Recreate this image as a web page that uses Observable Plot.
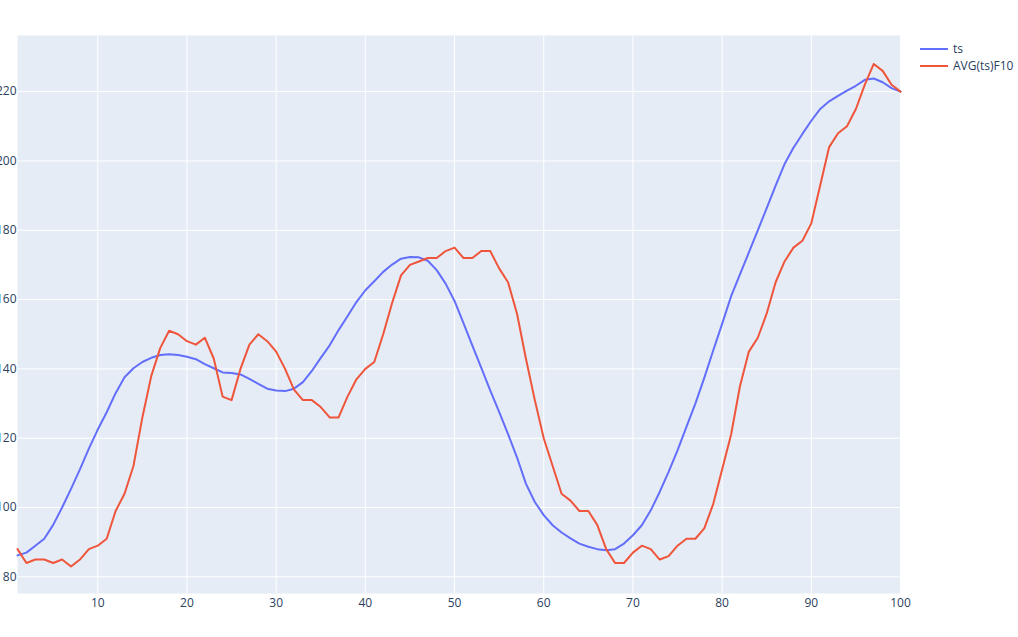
<!DOCTYPE html>
<html>
<head>
<meta charset="utf-8">
<script src="https://cdn.jsdelivr.net/npm/d3@7"></script>
<script src="https://cdn.jsdelivr.net/npm/@observablehq/plot@0.6"></script>
<style>
  html, body { margin: 0; padding: 0; background: #fff; }
  #wrap { position: relative; width: 1018px; height: 637px; font-family: "Open Sans", sans-serif; }
  #legend { position: absolute; left: 920px; top: 40px; font-size: 12px; color: #2a3f5f; }
  .item { display: flex; align-items: center; height: 17px; }
  .swatch { width: 28px; height: 2px; margin-right: 5px; }
</style>
</head>
<body>
<div id="wrap">
  <div id="chart"></div>
  <div id="legend"></div>
</div>
<script>
const xs = d3.range(1, 101);
const seriesNames = ["ts", "AVG(ts)F10"];
const seriesColors = ["#636EFA", "#EF553B"];
const ts = [
  86.2, 87, 89, 91, 95, 100, 105.4, 111, 117, 122.5,
  127.5, 133, 137.6, 140.2, 142, 143.2, 144, 144.2, 144, 143.5,
  142.8, 141.4, 140.2, 139, 138.8, 138.4, 137.1, 135.7, 134.3, 133.75,
  133.6, 134.3, 136.2, 139.4, 143.2, 146.8, 151.2, 155.2, 159.3, 162.7,
  165.3, 168, 170.1, 171.8, 172.3, 172.2, 171.2, 168.5, 164.6, 159.6,
  153.2, 146.7, 140.3, 133.8, 127.6, 121.2, 114.5, 106.9, 101.6, 97.8,
  94.9, 92.8, 91.1, 89.6, 88.7, 88, 87.7, 88, 89.6, 92,
  94.9, 99.2, 104.5, 110.3, 116.5, 123.3, 130, 137.4, 145.3, 153,
  160.9, 167.3, 173.6, 180, 186.4, 192.9, 199.1, 203.8, 207.8, 211.6,
  215, 217.2, 218.8, 220.3, 221.7, 223.4, 223.8, 222.7, 221, 220
];
const avgF10 = [
  88, 84, 85, 85, 84, 85, 83, 85, 88, 89,
  91, 99, 104, 112, 126, 138, 146, 151, 150, 148,
  147, 149, 143, 132, 131, 140, 147, 150, 148, 145,
  140, 134, 131, 131, 129, 126, 126, 132, 137, 140,
  142, 150, 159, 167, 170, 171, 172, 172, 174, 175,
  172, 172, 174, 174, 169, 165, 156, 143, 131, 120,
  112, 104, 102, 99, 99, 95, 88, 84, 84, 87,
  89, 88, 85, 86, 89, 91, 91, 94, 101, 111,
  121, 135, 145, 149, 156, 165, 171, 175, 177, 182,
  193, 204, 208, 210, 215, 222, 228, 226, 222, 220
];
const xTicks = [10, 20, 30, 40, 50, 60, 70, 80, 90, 100];
const yTicks = [80, 100, 120, 140, 160, 180, 200, 220];

const rows = [ts, avgF10].flatMap((vals, s) => xs.map((x, i) => ({x, y: vals[i], series: seriesNames[s]})));

const chart = Plot.plot({
  width: 1018,
  height: 637,
  marginLeft: 17,
  marginRight: 118,
  marginTop: 35,
  marginBottom: 44,
  style: {fontFamily: "Open Sans, sans-serif", fontSize: "12px", color: "#2a3f5f", background: "white"},
  x: {domain: [1, 100]},
  y: {domain: [75.2, 236.2]},
  color: {domain: seriesNames, range: seriesColors},
  marks: [
    Plot.frame({fill: "#E5ECF6", stroke: null}),
    Plot.gridX(xTicks, {stroke: "white", strokeOpacity: 1, strokeWidth: 1}),
    Plot.gridY(yTicks, {stroke: "white", strokeOpacity: 1, strokeWidth: 1}),
    Plot.axisX(xTicks, {tickSize: 0, tickPadding: 5, label: null, fontSize: 12}),
    Plot.axisY(yTicks, {tickSize: 0, tickPadding: 1, label: null, fontSize: 12}),
    Plot.line(rows, {x: "x", y: "y", z: "series", stroke: "series", strokeWidth: 2})
  ]
});
document.getElementById("chart").appendChild(chart);

const legend = document.getElementById("legend");
seriesNames.forEach((name, i) => {
  const item = document.createElement("div");
  item.className = "item";
  const sw = document.createElement("div");
  sw.className = "swatch";
  sw.style.background = seriesColors[i];
  const label = document.createElement("span");
  label.textContent = name;
  item.appendChild(sw);
  item.appendChild(label);
  legend.appendChild(item);
});
</script>
</body>
</html>
